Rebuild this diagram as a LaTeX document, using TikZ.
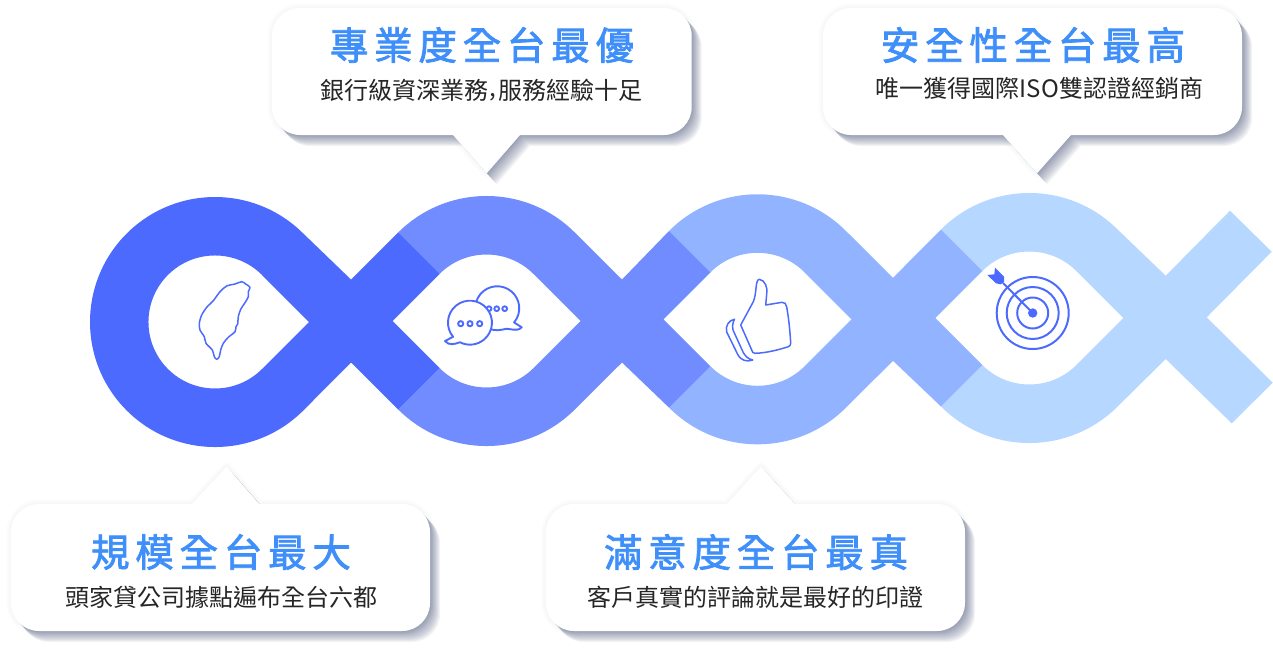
\documentclass[tikz,border=0pt]{standalone}
\usepackage{fontspec}
\newfontfamily\titlefont[LetterSpace=15,FakeBold=2]{Noto Sans CJK TC}
\newfontfamily\bodyfont{Noto Sans CJK TC}
\definecolor{ringone}{HTML}{4D6AFF}
\definecolor{ringtwo}{HTML}{708CFF}
\definecolor{ringthree}{HTML}{92B3FF}
\definecolor{ringfour}{HTML}{B6D7FF}
\definecolor{titleblue}{HTML}{3F8FFA}
\definecolor{shadowgray}{HTML}{4A5578}
\tikzset{%
  shade layer/.style={
    preaction={fill=shadowgray,fill opacity=.07,transform canvas={shift={(#1*1pt,-#1*1.1pt)}}}
  },
  glow layer/.style={
    preaction={draw=shadowgray,draw opacity=.016,line width=#1pt,line join=round}
  },
  bubble/.style={
    fill=white,
    glow layer/.list={9,6,3},
    shade layer/.list={10,9,...,1}
  },
  headline/.style={
    text=titleblue,
    font=\titlefont\fontsize{38.5}{40}\selectfont
  },
  subline/.style={
    text=black!85,
    font=\bodyfont\fontsize{24}{26}\selectfont
  },
  icon/.style={
    draw=ringone,
    line width=1.5pt,
    line join=round
  },
}

\begin{document}
\begin{tikzpicture}[x=1pt,y=-1pt]
\useasboundingbox (0,0) rectangle (1273,648);

    \fill[ringfour] (940.9,229.6) arc[start angle=-135,end angle=-45,radius=125] -- (1165.7,275.7) -- (1230,210.7) -- (1271.7,251.7) -- (1206.7,317.3) -- (1272.7,382.7) -- (1231.7,423.3) -- (1165.7,359) -- (1117.7,406.4) arc[start angle=45,end angle=135,radius=125] -- (982.3,365) arc[start angle=135,end angle=45,radius=66.5] -- (1123.3,318) -- (1076.3,271) arc[start angle=-45,end angle=-135,radius=66.5] -- cycle;

    \fill[ringthree] (669.1,230.9) arc[start angle=-135,end angle=-45,radius=125] -- (893,277.8) -- (940.9,229.6) -- (982.3,271) -- (935.3,318) -- (982.3,365) -- (940.9,406.4) -- (893,360.8) -- (845.9,407.7) arc[start angle=45,end angle=135,radius=125] -- (710.5,366.3) arc[start angle=135,end angle=45,radius=66.5] -- (851.5,319.3) -- (804.5,272.3) arc[start angle=-45,end angle=-135,radius=66.5] -- cycle;

    \fill[ringtwo] (398.1,232.6) arc[start angle=-135,end angle=-45,radius=125] -- (622,279.5) -- (669.1,230.9) -- (710.5,272.3) -- (663.5,319.3) -- (710.5,366.3) -- (669.1,407.7) -- (622,362.5) -- (574.9,409.4) arc[start angle=45,end angle=135,radius=125] -- (439.5,368) arc[start angle=135,end angle=45,radius=66.5] -- (580.5,321) -- (533.5,274) arc[start angle=-45,end angle=-135,radius=66.5] -- cycle;

    \fill[ringone,even odd rule] (303.4,233.6) -- (351,279.5) -- (398.1,232.6) -- (439.5,274) -- (392.5,321) -- (439.5,368) -- (398.1,409.4) -- (351,362.5) -- (303.4,410.4) arc[start angle=45,end angle=315,radius=125] -- cycle
        (262,275) -- (309,322) -- (262,369) arc[start angle=45,end angle=315,radius=66.5] -- cycle;

    \draw[icon] plot[smooth cycle,tension=.5] coordinates {(241.7,281.7) (245.7,284) (250,287.3) (248.3,291.7) (248.3,296.7) (245,302.7) (240.7,309.3) (238.3,316.7) (237.7,324) (236,326.7) (235,331.7) (228.3,337.3) (223.3,343.3) (220.7,350) (219.3,356.7) (216.7,359.3) (214.3,356.7) (212.3,350) (206,343.3) (204.3,336.7) (200,330) (199.3,323.3) (201.7,315) (206.7,307.3) (213.3,300.7) (220,291.7) (226.7,286) (235,284)};

    \draw[icon,line width=1.9pt] (514.1,322.4) arc[start angle=40,end angle=-285,radius=22] .. controls (510,327) and (516,333) .. (521.7,327.3) -- cycle;
    \draw[icon,line width=1.9pt] (489,308.7) circle[radius=2.4] (496.7,308.7) circle[radius=2.4] (504.7,308.7) circle[radius=2.4];
    \draw[icon,line width=1.9pt,fill=white] (453.1,336.8) arc[start angle=140,end angle=477,radius=22] .. controls (455,344) and (449,346) .. (445,341) -- cycle;
    \draw[icon,line width=1.9pt] (460.7,323.7) circle[radius=2.6] (470,323.7) circle[radius=2.6] (479.7,323.7) circle[radius=2.6];

    \draw[icon] (740.7,325) -- (753.3,301.7) .. controls (757,293) and (755,280) .. (759.3,279.3) .. controls (765,280) and (768,288) .. (766.7,294) -- (765.7,305) -- (782,302.3) .. controls (785,302) and (786,304) .. (786.7,307) .. controls (789,320) and (790,332) .. (790.7,343) .. controls (790.7,345) and (790,346) .. (788.3,346.7) .. controls (778,350) and (766,353) .. (755,353.3) .. controls (753,353) and (752,352) .. (751.7,350) -- cycle;
    \draw[icon] (734.5,319.3) .. controls (729,320) and (725,326) .. (726.7,332) -- (737.5,354) .. controls (741,361) and (747,362) .. (752.7,360) .. controls (748,359) and (745,356) .. (743,352) -- (733,330) .. controls (732,326) and (733,322) .. (734.5,319.3) -- cycle;

    \draw[icon,line width=2pt] (1032.7,313) circle[radius=36] (1032.7,313) circle[radius=26] (1032.7,313) circle[radius=15.5];
    \fill[ringone] (1032.7,313) circle[radius=4.7];
    \draw[icon,line width=2pt] (1032.7,313) -- (1003,283);
    \fill[ringone] (995,267.7) -- (1004,276.7) -- (1004,282) -- (1001,284.3) -- (996,283.3) -- (987.3,275) -- (994.3,274.3) -- cycle;

    \path[bubble] (300,8) -- (663.7,8) arc[start angle=-90,end angle=0,radius=28] -- (691.7,107) arc[start angle=0,end angle=90,radius=28] -- (520,135) -- (486.7,173.3) -- (453,135) -- (300,135) arc[start angle=90,end angle=180,radius=28] -- (272,36) arc[start angle=180,end angle=270,radius=28] -- cycle;
    \path[bubble] (851,8) -- (1214,8) arc[start angle=-90,end angle=0,radius=28] -- (1242,107) arc[start angle=0,end angle=90,radius=28] -- (1071,135) -- (1037,173.3) -- (1003,135) -- (851,135) arc[start angle=90,end angle=180,radius=28] -- (823,36) arc[start angle=180,end angle=270,radius=28] -- cycle;
    \path[bubble] (39,504) -- (192,504) -- (226.7,466.7) -- (259.3,504) -- (402,504) arc[start angle=-90,end angle=0,radius=28] -- (430,603) arc[start angle=0,end angle=90,radius=28] -- (39,631) arc[start angle=90,end angle=180,radius=28] -- (11,532) arc[start angle=180,end angle=270,radius=28] -- cycle;
    \path[bubble] (574,504) -- (727,504) -- (761,466.7) -- (795,504) -- (937,504) arc[start angle=-90,end angle=0,radius=28] -- (965,603) arc[start angle=0,end angle=90,radius=28] -- (574,631) arc[start angle=90,end angle=180,radius=28] -- (546,532) arc[start angle=180,end angle=270,radius=28] -- cycle;

    \node[headline] (hscale) at (221,552) {規模全台最大};
    \node[subline] (sscale) at (221,597) {頭家貸公司據點遍布全台六都};
    \node[headline] (hskill) at (482,45) {專業度全台最優};
    \node[subline] (sskill) at (481.5,90) {銀行級資深業務\kern1pt\raisebox{3pt}{,}\kern3pt 服務經驗十足};
    \node[headline] (hhappy) at (756,552) {滿意度全台最真};
    \node[subline] (shappy) at (755,597) {客戶真實的評論就是最好的印證};
    \node[headline] (hsafe) at (1033,45) {安全性全台最高};
    \node[subline] (ssafe) at (1039.5,88) {唯一獲得國際ISO雙認證經銷商};
\end{tikzpicture}
\end{document}
